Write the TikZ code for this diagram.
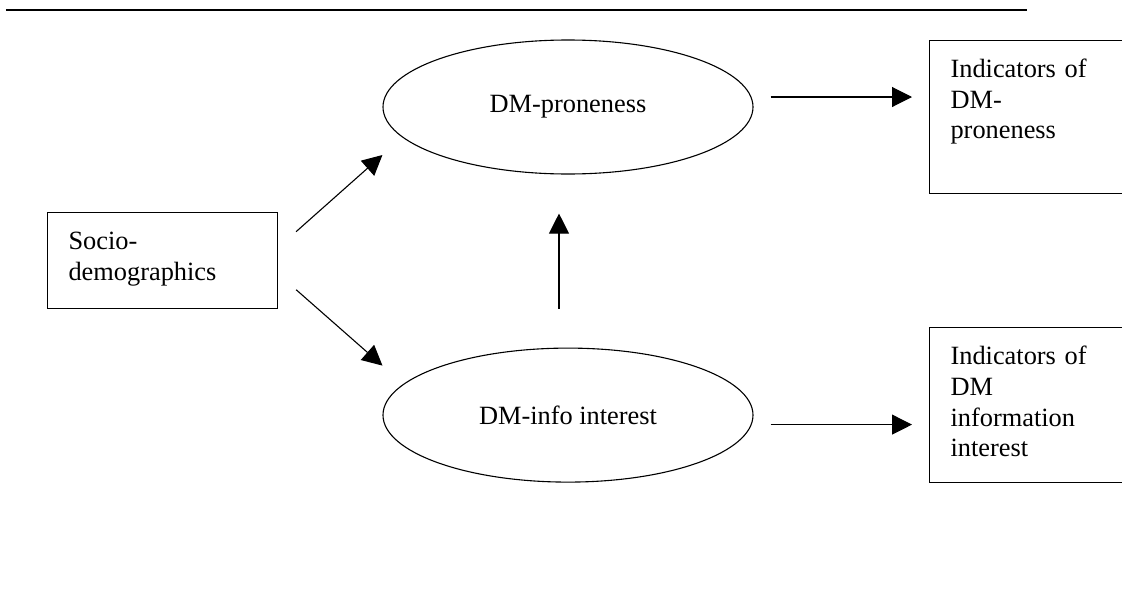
\documentclass[tikz,border=0pt]{standalone}
\usepackage{fontspec}
\setmainfont{Liberation Serif}
\usetikzlibrary{positioning, shapes, arrows.meta}

\begin{document}
\begin{tikzpicture}[
  box/.style={draw, rectangle, line width=0.5pt, font=\large, text width=3.008cm, align=left,
              inner xsep=0.336cm, inner ysep=0pt, text height=0.59cm},
  ell/.style={draw, ellipse, line width=0.5pt, font=\large, minimum width=5.92cm,
              minimum height=2.144cm, inner sep=0pt},
  arr/.style={line width=0.5pt, -{Triangle[length=0.32cm, width=0.32cm]}}
]

\useasboundingbox (0,0) rectangle (17.952,-9.616);
\clip (0,0) rectangle (17.952,-9.616);

% rule at the top of the page
\draw[line width=0.5pt] (0.096,-0.16) -- (16.427,-0.16);

  \node[ell] (prone) at (9.088,-1.712) {DM-proneness};
  \node[ell, below=2.768cm of prone] (info) {DM-info interest};

  \node[box, text depth=0.95cm, anchor=north west] (socio) at (0.752,-3.392) {
    Socio-\\
    demographics
  };

  \node[box, text depth=1.85cm, anchor=north west] (ind1) at (14.864,-0.64) {
    Indicators of\\
    DM-\\
    proneness
  };

  \node[box, text depth=1.89cm, anchor=north west] (ind2) at (14.864,-5.237) {
    Indicators of\\
    DM\\
    information\\
    interest
  };

\coordinate[above=0.16cm of prone.east] (a1);
\coordinate[below=0.152cm of info.east] (a2);

\draw[arr] ([xshift=0.288cm, yshift=0.464cm]socio.east) -- ([yshift=-0.768cm]prone.west);
\draw[arr] ([xshift=0.288cm, yshift=-0.464cm]socio.east) -- ([yshift=0.792cm]info.west);
\draw[arr, shorten <=0.624cm, shorten >=0.624cm] ([xshift=-0.144cm]info.north) -- ([xshift=-0.144cm]prone.south);
\draw[arr, shorten <=0.272cm, shorten >=0.272cm] (a1) -- (a1 -| ind1.west);
\draw[arr, shorten <=0.272cm, shorten >=0.272cm] (a2) -- (a2 -| ind2.west);

\end{tikzpicture}
\end{document}
